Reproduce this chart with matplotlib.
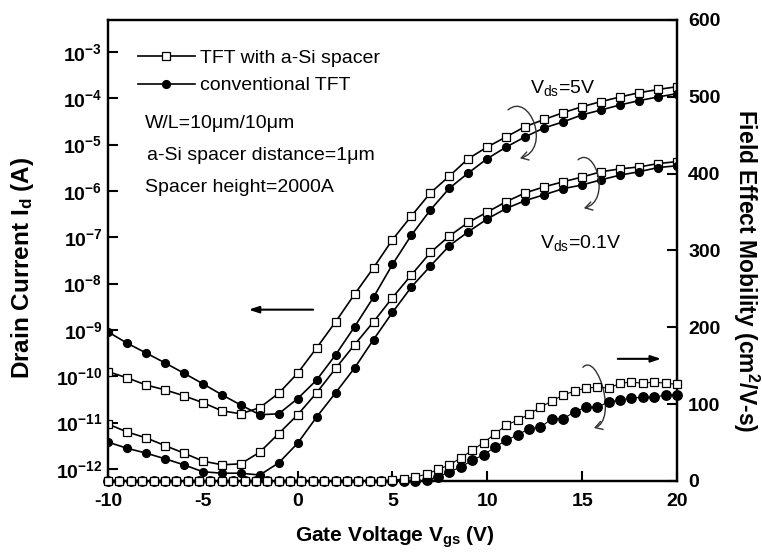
import numpy as np
import matplotlib
matplotlib.use("Agg")
import matplotlib.pyplot as plt
from matplotlib.lines import Line2D
from matplotlib.patches import FancyArrowPatch
from matplotlib.path import Path

plt.rcParams['font.family'] = 'Liberation Sans'
plt.rcParams['mathtext.fontset'] = 'custom'
plt.rcParams['mathtext.rm'] = 'Liberation Sans'
plt.rcParams['mathtext.it'] = 'Liberation Sans:italic'
plt.rcParams['mathtext.bf'] = 'Liberation Sans:bold'

# transfer curves, Vgs step 1 V
vgs = np.arange(-10, 21, 1)
id_spacer_5v = [1.26e-10, 9.3e-11, 6.5e-11, 5.1e-11, 3.8e-11, 2.7e-11, 1.8e-11, 1.55e-11, 2.1e-11, 4.3e-11,
                1.17e-10, 4.1e-10, 1.5e-9, 5.9e-9, 2.2e-8, 8.9e-8, 2.9e-7, 9.1e-7, 2.1e-6, 5.0e-6,
                8.9e-6, 1.48e-5, 2.45e-5, 3.5e-5, 4.9e-5, 6.6e-5, 8.5e-5, 1.07e-4, 1.32e-4, 1.55e-4, 1.78e-4]
id_conv_5v = [9.1e-10, 5.2e-10, 3.2e-10, 1.95e-10, 1.17e-10, 6.9e-11, 4.0e-11, 2.4e-11, 1.48e-11, 1.55e-11,
              3.3e-11, 8.3e-11, 2.9e-10, 1.17e-9, 5.1e-9, 2.6e-8, 1.12e-7, 3.9e-7, 1.15e-6, 2.45e-6,
              5.0e-6, 8.9e-6, 1.48e-5, 2.3e-5, 3.1e-5, 4.4e-5, 5.6e-5, 7.2e-5, 8.9e-5, 1.07e-4, 1.26e-4]
id_spacer_01v = [9.3e-12, 6.3e-12, 4.7e-12, 3.2e-12, 2.2e-12, 1.48e-12, 1.23e-12, 1.29e-12, 2.3e-12, 5.8e-12,
                 1.48e-11, 4.4e-11, 1.48e-10, 4.8e-10, 1.5e-9, 5.0e-9, 1.55e-8, 4.7e-8, 1.07e-7, 2.1e-7,
                 3.5e-7, 5.9e-7, 9.1e-7, 1.23e-6, 1.58e-6, 2.0e-6, 2.6e-6, 3.0e-6, 3.3e-6, 3.9e-6, 4.3e-6]
id_conv_01v = [3.8e-12, 2.8e-12, 2.2e-12, 1.66e-12, 1.23e-12, 8.7e-13, 8.1e-13, 8.1e-13, 7.4e-13, 1.35e-12,
               3.6e-12, 1.32e-11, 4.4e-11, 1.51e-10, 6.2e-10, 2.4e-9, 8.5e-9, 2.4e-8, 6.6e-8, 1.32e-7,
               2.5e-7, 4.2e-7, 6.2e-7, 8.3e-7, 1.12e-6, 1.35e-6, 1.74e-6, 2.2e-6, 2.6e-6, 3.2e-6, 3.5e-6]

# field effect mobility, Vgs step 0.6 V
vgs_mob = np.linspace(-10, 20, 51)
mob_spacer = [0] * 25 + [1, 3, 5, 9, 15, 21, 30, 40, 50, 61, 73, 79, 87, 96, 104, 112,
                         117, 121, 122, 121, 127, 129, 127, 129, 127, 126]
mob_conv = [0] * 28 + [1, 5, 12, 18, 27, 34, 44, 53, 60, 68, 70, 81, 81, 90, 96, 96,
                       103, 105, 108, 109, 109, 112, 112]

decades = list(range(-12, -2))

fig = plt.figure(figsize=(7.62, 5.57), dpi=100)
ax = fig.add_axes([108 / 762, 1 - 481 / 557, 569 / 762, 461 / 557])
ax2 = ax.twinx()

sq = dict(marker='s', markerfacecolor='white', markeredgecolor='k', markersize=5.2, markeredgewidth=0.9)
ci = dict(marker='o', markerfacecolor='k', markeredgecolor='k', markersize=5.6)

ax.semilogy(vgs, id_spacer_5v, color='k', lw=1.2, **sq)
ax.semilogy(vgs, id_conv_5v, color='k', lw=1.2, **ci)
ax.semilogy(vgs, id_spacer_01v, color='k', lw=1.2, **sq)
ax.semilogy(vgs, id_conv_01v, color='k', lw=1.2, **ci)

ax2.plot(vgs_mob, mob_conv, color='k', lw=0.8, marker='o', markerfacecolor='k',
         markeredgecolor='k', markersize=6.8, clip_on=False, zorder=3)
ax2.plot(vgs_mob, mob_spacer, color='k', lw=0.8, marker='s', markerfacecolor='white',
         markeredgecolor='k', markersize=6.4, markeredgewidth=0.9, clip_on=False, zorder=4)

ax.set_xlim(-10, 20)
ax.set_ylim(10 ** -12.26, 10 ** -2.31)
ax2.set_ylim(0, 600)

ax.set_xticks([-10, -5, 0, 5, 10, 15, 20])
ax.set_xticklabels(['-10', '-5', '0', '5', '10', '15', '20'], fontweight='bold', fontsize=14)
ax.set_yticks([10.0 ** d for d in decades])
ax.set_yticklabels([r'$\mathbf{10^{%d}}$' % d for d in decades], fontsize=14)
ax.yaxis.set_minor_locator(matplotlib.ticker.NullLocator())
ax2.set_yticks([0, 100, 200, 300, 400, 500, 600])
ax2.set_yticklabels(['0', '100', '200', '300', '400', '500', '600'], fontweight='bold', fontsize=14)

ax.tick_params(axis='both', direction='in', length=7, width=1.5)
ax.tick_params(axis='x', pad=9)
ax.tick_params(axis='y', pad=4)
ax2.tick_params(axis='y', direction='in', length=7, width=1.5, pad=8)
for a in (ax, ax2):
    for s in a.spines.values():
        s.set_linewidth(1.6)

ax.set_xlabel(r'Gate Voltage V$_{\mathbf{gs}}$ (V)', fontsize=15, fontweight='bold', va='center')
ax.xaxis.set_label_coords(0.504, -0.121)
ax.set_ylabel(r'Drain Current I$_{\mathbf{d}}$ (A)', fontsize=17.5, fontweight='bold', va='center')
ax.yaxis.set_label_coords(-0.151, 0.462)
ax2.set_ylabel(r'Field Effect Mobility (cm$^{\mathbf{2}}$/V-s)', fontsize=16.5, fontweight='bold',
               rotation=270, va='center')
ax2.yaxis.set_label_coords(1.122, 0.456)

handles = [Line2D([], [], color='k', lw=1.2, **sq), Line2D([], [], color='k', lw=1.2, **ci)]
ax.legend(handles, ['TFT with a-Si spacer', 'conventional TFT'], loc='upper left',
          bbox_to_anchor=(0.053, 0.936), frameon=False, fontsize=14, handlelength=2.9,
          handletextpad=0.3, labelspacing=0.5, borderpad=0, borderaxespad=0)

ax.text(0.065, 0.766, 'W/L=10μm/10μm', transform=ax.transAxes, fontsize=14, va='baseline')
ax.text(0.068, 0.696, 'a-Si spacer distance=1μm', transform=ax.transAxes, fontsize=14, va='baseline')
ax.text(0.065, 0.627, 'Spacer height=2000A', transform=ax.transAxes, fontsize=14, va='baseline')

ax2.text(12.25, 505, r'V$_{\mathrm{ds}}$=5V', fontsize=14, va='baseline')
ax2.text(12.77, 303, r'V$_{\mathrm{ds}}$=0.1V', fontsize=14, va='baseline')

# straight arrows
ax2.annotate('', xy=(-2.73, 223), xytext=(0.96, 223),
             arrowprops=dict(arrowstyle='-|>,head_length=0.6,head_width=0.2', color='k', lw=1.5))
ax2.annotate('', xy=(19.31, 159), xytext=(16.73, 159),
             arrowprops=dict(arrowstyle='-|>,head_length=0.6,head_width=0.2', color='k', lw=1.5))

# curved arrows
codes = [Path.MOVETO, Path.CURVE4, Path.CURVE4, Path.CURVE4]
arcs = [
    [(11.09, 483), (12.25, 507), (13.40, 432), (11.72, 420)],
    [(14.78, 418), (15.68, 437), (16.57, 365), (15.09, 355)],
    [(15.04, 148), (15.83, 168), (16.88, 79), (15.62, 69)],
]
for verts in arcs:
    p = FancyArrowPatch(path=Path(verts, codes), arrowstyle='->,head_length=0.5,head_width=0.3',
                        mutation_scale=10, lw=1.0, color='#333333', transform=ax2.transData)
    ax2.add_patch(p)

fig.savefig('out.png', dpi=100)
